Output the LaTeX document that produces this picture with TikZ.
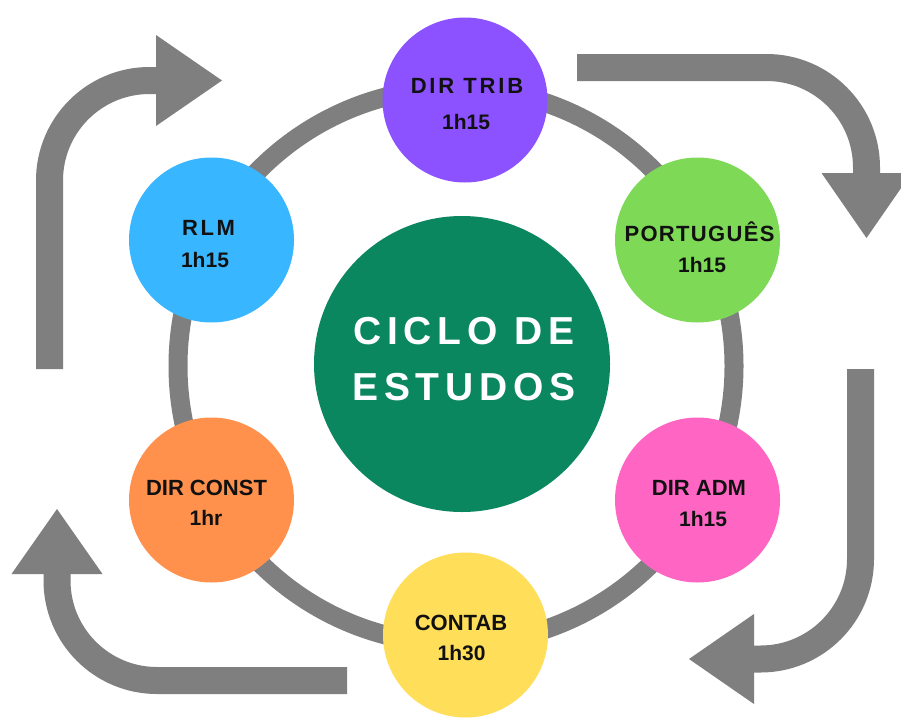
\documentclass[tikz,border=0pt]{standalone}
\usepackage{fontspec}
\setmainfont{Liberation Sans}
\newfontfamily\fTrib[LetterSpace=13]{Liberation Sans}
\newfontfamily\fRlm[LetterSpace=12]{Liberation Sans}
\newfontfamily\fPort[LetterSpace=6]{Liberation Sans}
\newfontfamily\fCenter[LetterSpace=15]{Liberation Sans}
\definecolor{cgray}{HTML}{7F7F7F}
\definecolor{cpurple}{HTML}{8C52FF}
\definecolor{cgreenl}{HTML}{7ED957}
\definecolor{cpink}{HTML}{FF66C4}
\definecolor{cyellow}{HTML}{FFDE59}
\definecolor{corange}{HTML}{FF914D}
\definecolor{cblue}{HTML}{38B6FF}
\definecolor{cdark}{HTML}{0B8760}
\definecolor{ctext}{HTML}{111111}
\tikzset{
  shaft/.style={draw=cgray, line width=27pt, rounded corners=100pt},
  headtri/.style={fill=cgray},
  ring/.style={draw=cgray, line width=19pt},
  topic/.style={circle, minimum size=165pt, inner sep=0pt},
  lbl/.style={anchor=base, inner sep=0pt, text=ctext, font=\fontsize{21}{25}\selectfont\bfseries},
  lblb/.style={anchor=base, inner sep=0pt, text=ctext, font=\fontsize{22}{26}\selectfont\bfseries},
  title/.style={anchor=base, inner sep=0pt, text=white, font=\fCenter\fontsize{39}{46}\selectfont\bfseries}
}
\begin{document}
\begin{tikzpicture}[x=1pt,y=-1pt]
\fill[white] (0,0) rectangle (901,720);
\useasboundingbox (0,0) rectangle (901,720);
% outer arrows
\draw[shaft] (49.5,369) -- (49.5,80.5) -- (160,80.5);
\fill[headtri] (156,35) -- (222,80.5) -- (156,126) -- cycle;
\draw[shaft] (577,67.5) -- (866.5,67.5) -- (866.5,177);
\fill[headtri] (821.5,173) -- (911.5,173) -- (866.5,238) -- cycle;
\draw[shaft] (860.5,369) -- (860.5,659) -- (750,659);
\fill[headtri] (754,614) -- (754,704) -- (689,659) -- cycle;
\draw[shaft] (347,680.5) -- (57,680.5) -- (57,570);
\fill[headtri] (11.5,574) -- (102.5,574) -- (57,509) -- cycle;
% ring
\draw[ring] (456,366) circle[radius=278pt];
% topic circles
\node[topic, fill=cpurple] (trib) at (465,100) {};
\node[topic, fill=cgreenl] (port) at (697.5,240) {};
\node[topic, fill=cpink] (adm) at (697.5,500) {};
\node[topic, fill=cyellow] (contab) at (465.5,635) {};
\node[topic, fill=corange] (const) at (211.5,500) {};
\node[topic, fill=cblue] (rlm) at (211.5,240) {};
% center
\node[circle, fill=cdark, minimum size=296pt, inner sep=0pt] (ciclo) at (462,364) {};
\node[title] (t1) at (464,344) {CICLO DE};
\node[title] (t2) at (464,400) {ESTUDOS};
% labels
\node[lbl, font=\fTrib\fontsize{22}{26}\selectfont\bfseries] (tribA) at (467,93) {DIR TRIB};
\node[lbl] (tribB) at (466,129) {1h15};
\node[lbl, font=\fRlm\fontsize{22}{26}\selectfont\bfseries] (rlmA) at (208.5,235) {RLM};
\node[lbl] (rlmB) at (205,267) {1h15};
\node[lblb, font=\fPort\fontsize{22}{26}\selectfont\bfseries] (portA) at (699.5,241) {PORTUGUÊS};
\node[lbl] (portB) at (702,272) {1h15};
\node[lblb] (admA) at (699,495) {DIR ADM};
\node[lbl] (admB) at (703,526) {1h15};
\node[lblb] (constA) at (206.5,495) {DIR CONST};
\node[lbl] (constB) at (206,525) {1hr};
\node[lblb] (contabA) at (461,630) {CONTAB};
\node[lbl] (contabB) at (461.5,660) {1h30};
\end{tikzpicture}
\end{document}
